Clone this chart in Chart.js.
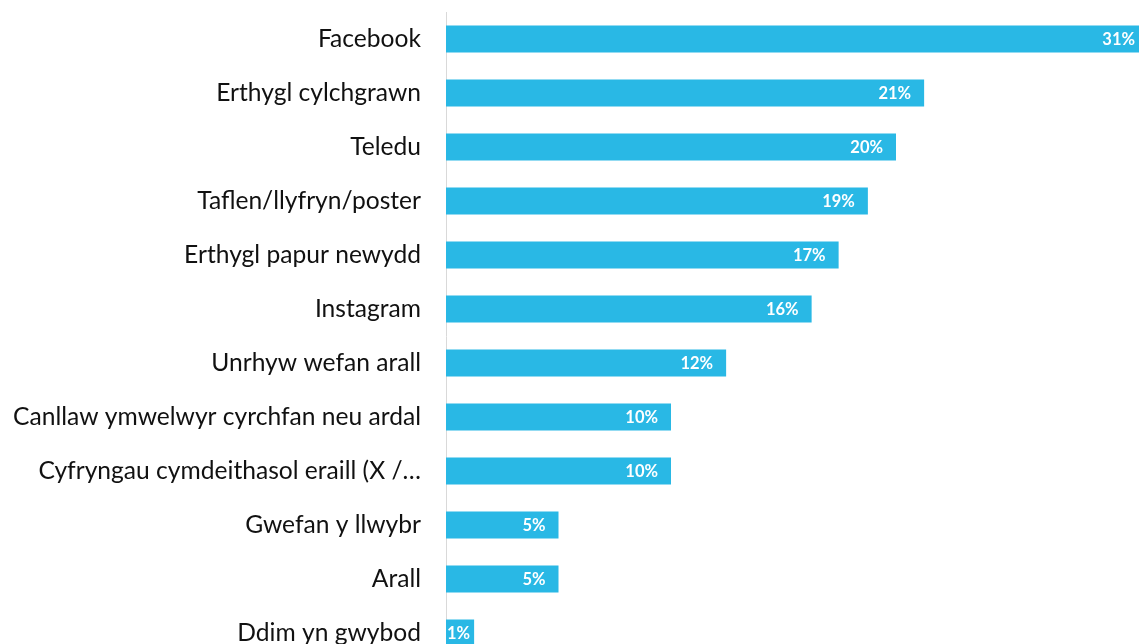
<!DOCTYPE html>
<html>
<head>
<meta charset="utf-8">
<script src="https://cdn.jsdelivr.net/npm/chart.js@4/dist/chart.umd.min.js"></script>
<style>
  html, body { margin: 0; padding: 0; background: #fff; overflow: hidden; width: 1139px; height: 644px; }
  #wrap { position: absolute; left: 0; top: 0; width: 1180px; height: 680px; }
</style>
</head>
<body>
<div id="wrap"><canvas id="c" width="1180" height="680"></canvas></div>
<script>
const categories = [
  "Facebook",
  "Erthygl cylchgrawn",
  "Teledu",
  "Taflen/llyfryn/poster",
  "Erthygl papur newydd",
  "Instagram",
  "Unrhyw wefan arall",
  "Canllaw ymwelwyr cyrchfan neu ardal",
  "Cyfryngau cymdeithasol eraill (X /\u2026",
  "Gwefan y llwybr",
  "Arall",
  "Ddim yn gwybod"
];
const values = [31.2, 21.25, 20.0, 18.75, 17.45, 16.25, 12.45, 10.0, 10.0, 5.0, 5.0, 1.25];

const barColor = "#29b8e5";

const labelPlugin = {
  id: "barLabels",
  afterDatasetsDraw(chart) {
    const ctx = chart.ctx;
    const meta = chart.getDatasetMeta(0);
    ctx.save();
    ctx.font = "bold 16.5px Lato";
    ctx.fillStyle = "#ffffff";
    ctx.textAlign = "right";
    ctx.textBaseline = "middle";
    meta.data.forEach((bar, i) => {
      const txt = Math.round(values[i]) + "%";
      const w = ctx.measureText(txt).width;
      let x = bar.x - 13;
      if (x - w < bar.base + 1) x = bar.base + 1 + w;
      ctx.fillText(txt, x, bar.y + 1);
    });
    ctx.restore();
  }
};

new Chart(document.getElementById("c"), {
  type: "bar",
  data: {
    labels: categories,
    datasets: [{
      data: values,
      backgroundColor: barColor,
      borderWidth: 0,
      categoryPercentage: 1.0,
      barPercentage: 0.5
    }]
  },
  options: {
    indexAxis: "y",
    responsive: false,
    animation: false,
    devicePixelRatio: 1,
    layout: { padding: { top: 12, bottom: 20, right: 14, left: 0 } },
    plugins: { legend: { display: false }, tooltip: { enabled: false } },
    scales: {
      x: {
        display: false,
        min: 0,
        max: 32
      },
      y: {
        grid: { display: false, drawTicks: false },
        border: { display: true, color: "#d9d9d9", width: 1 },
        ticks: {
          color: "#111111",
          font: { family: "Lato", size: 24.6 },
          padding: 25,
          autoSkip: false
        },
        afterFit(scale) {
          scale.width = 446;
          scale.paddingTop = 0;
          scale.paddingBottom = 0;
        }
      }
    }
  },
  plugins: [labelPlugin]
});
</script>
</body>
</html>
